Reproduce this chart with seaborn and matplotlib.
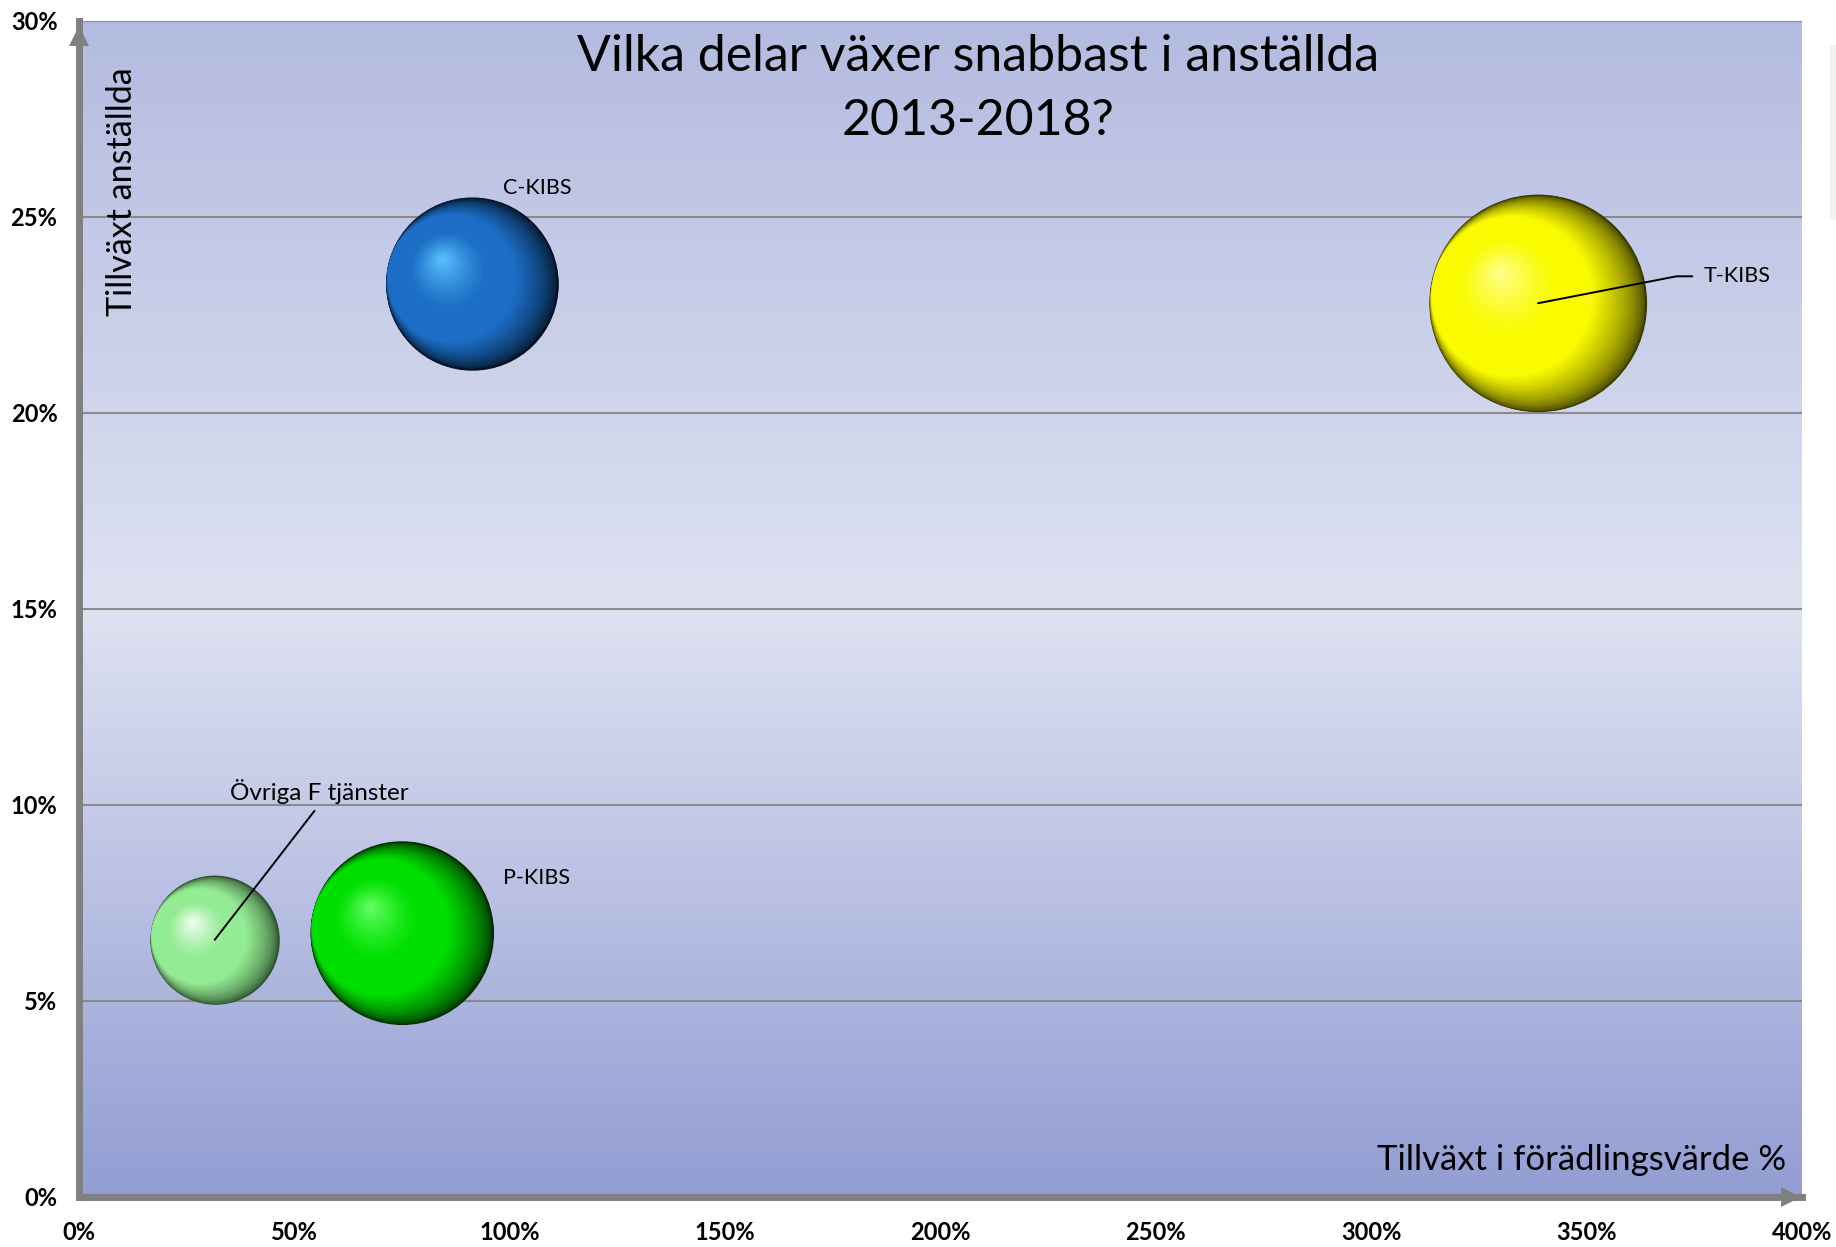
import numpy as np
import pandas as pd
import matplotlib
matplotlib.use("Agg")
import matplotlib.pyplot as plt
import matplotlib.transforms as mtransforms
from matplotlib.colors import to_rgb, LinearSegmentedColormap
from matplotlib.patches import Rectangle
import seaborn as sns

# ---------------- data ----------------
categories = ["Övriga F tjänster", "P-KIBS", "C-KIBS", "T-KIBS"]
value_growth = [31.5, 75.0, 91.3, 338.7]      # Tillväxt i förädlingsvärde (%)
employee_growth = [6.56, 6.74, 23.3, 22.8]    # Tillväxt anställda (%)
bubble_size = [35, 71, 63, 100]               # relative bubble size
x_ticks = [0, 50, 100, 150, 200, 250, 300, 350, 400]
y_ticks = [0, 5, 10, 15, 20, 25, 30]

title_line1 = "Vilka delar växer snabbast i anställda"
title_line2 = "2013-2018?"
x_title = "Tillväxt i förädlingsvärde %"
y_title = "Tillväxt anställda"

# ---------------- styles ----------------
base_colors = {"Övriga F tjänster": "#93eb93", "P-KIBS": "#00e000",
               "C-KIBS": "#1c6ec6", "T-KIBS": "#fafa00"}
dark_colors = {"Övriga F tjänster": "#2e4f2e", "P-KIBS": "#002a00",
               "C-KIBS": "#02101f", "T-KIBS": "#3a3a00"}
light_colors = {"Övriga F tjänster": "#f4fff4", "P-KIBS": "#66ff66",
                "C-KIBS": "#5cc4ff", "T-KIBS": "#ffff90"}
label_style = {  # offset (points) from bubble centre, ha, leader line
    "Övriga F tjänster": ((75.5, 106.6), "center", "bottom"),
    "P-KIBS": ((73.0, 39.3), "left", None),
    "C-KIBS": ((22.0, 68.7), "left", None),
    "T-KIBS": ((119.5, 19.4), "left", "left"),
}

sns.set_theme(style="white")
plt.rcParams["font.family"] = ["Lato", "DejaVu Sans"]

W, H = 1836, 1247
fig = plt.figure(figsize=(W / 100, H / 100), dpi=100)
fig.patch.set_facecolor("white")
L, R, T, B = 79, 1802, 21, 1197
ax = fig.add_axes([L / W, 1 - B / H, (R - L) / W, (B - T) / H])

# background gradient
grad = np.linspace(0, 1, 256).reshape(-1, 1)
cmap = LinearSegmentedColormap.from_list(
    "bg", [(0, "#929dd3"), (0.5, "#dfe2f2"), (1, "#b3bbe0")])
ax.imshow(grad, extent=[0, 1, 0, 1], transform=ax.transAxes, origin="lower",
          cmap=cmap, aspect="auto", zorder=0)

df = pd.DataFrame({"Kategori": categories, "x": value_growth,
                   "y": employee_growth, "size": bubble_size})

s_max = (2 * 108.6 * 0.72) ** 2
sns.scatterplot(data=df, x="x", y="y", hue="Kategori", size="size",
                sizes=(s_max * 0.35, s_max * 1.0), size_norm=(35, 100),
                palette=dark_colors, legend=False, linewidth=0, ax=ax,
                zorder=3)

coll = ax.collections[0]
sizes = coll.get_sizes()


def mix(c1, c2, f):
    a, b = np.array(to_rgb(c1)), np.array(to_rgb(c2))
    f = min(max(f, 0.0), 1.0)
    return tuple(a + (b - a) * f)


ang = np.deg2rad(165)
u = np.array([np.cos(ang), np.sin(ang)])
t1 = 0.26
for (i, row), s in zip(df.iterrows(), sizes):
    name = row["Kategori"]
    D, C, Lc = dark_colors[name], base_colors[name], light_colors[name]
    r = np.sqrt(s) / 2.0
    hl = np.array([-0.36 * r, 0.30 * r])
    p1 = u * r * t1 * 0.98
    for t in np.linspace(0, 0.97, 100):
        if t <= t1:
            p = u * r * t * 0.98
            c = mix(D, C, (t / t1) ** 0.6)
        else:
            f = (t - t1) / (1 - t1)
            p = p1 + (hl - p1) * f
            if t < 0.55:
                c = to_rgb(C)
            else:
                c = mix(C, Lc, ((t - 0.55) / 0.45) ** 1.2)
        tr = ax.transData + mtransforms.ScaledTranslation(
            p[0] / 72, p[1] / 72, fig.dpi_scale_trans)
        ax.scatter([row["x"]], [row["y"]], s=s * (1 - t) ** 2, color=c,
                   linewidth=0, transform=tr, zorder=3)

# labels
for _, row in df.iterrows():
    name = row["Kategori"]
    (dx, dy), ha, leader = label_style[name]
    kw = {}
    if leader == "bottom":
        kw["arrowprops"] = dict(arrowstyle="-", color="black", lw=1.4,
                                shrinkA=3, shrinkB=0, relpos=(0.5, 0.0))
    elif leader == "left":
        kw["arrowprops"] = dict(arrowstyle="-", color="black", lw=1.4,
                                shrinkA=6, shrinkB=0, relpos=(0.0, 0.5),
                                connectionstyle="angle,angleA=0,angleB=11,rad=0")
    ax.annotate(name, xy=(row["x"], row["y"]), xytext=(dx, dy),
                textcoords="offset points", ha=ha, va="center",
                fontsize=17.5 if name.startswith("Ö") else 15.5,
                color="black", zorder=6, **kw)

ax.set_xlim(0, 400)
ax.set_ylim(0, 30)
ax.set_xticks(x_ticks)
ax.set_yticks(y_ticks)
ax.set_xticklabels([f"{v}%" for v in x_ticks])
ax.set_yticklabels([f"{v}%" for v in y_ticks])
ax.set_xlabel("")
ax.set_ylabel("")
for lab in ax.get_xticklabels() + ax.get_yticklabels():
    lab.set_fontweight("bold")
    lab.set_fontsize(17)
    lab.set_color("black")
ax.tick_params(axis="both", direction="out", length=4.5, width=3,
               color="#808080")
ax.tick_params(axis="x", pad=13)
ax.tick_params(axis="y", pad=11)

ax.yaxis.grid(True, color="#8a8a8a", lw=1.5)
ax.xaxis.grid(False)
ax.set_axisbelow("line")

for side in ["top", "right"]:
    ax.spines[side].set_visible(False)
for side in ["left", "bottom"]:
    ax.spines[side].set_color("#808080")
    ax.spines[side].set_linewidth(5)
    ax.spines[side].set_zorder(4)

# axis arrow heads
ax.plot([0], [0.987], marker="^", ms=15, color="#808080",
        transform=ax.transAxes, clip_on=False, zorder=5, mew=0)
ax.plot([0.9935], [0], marker=">", ms=15, color="#808080",
        transform=ax.transAxes, clip_on=False, zorder=5, mew=0)

# titles inside the plot area
ax.text(0.522, (B - 57) / (B - T), title_line1, transform=ax.transAxes,
        ha="center", va="center", fontsize=36, color="black", zorder=6)
ax.text(0.522, (B - 121) / (B - T), title_line2, transform=ax.transAxes,
        ha="center", va="center", fontsize=36, color="black", zorder=6)
ax.text((122 - L) / (R - L), (B - 192) / (B - T), y_title,
        transform=ax.transAxes, rotation=90, ha="center", va="center",
        fontsize=24.5, color="black", zorder=6)
ax.text((1786 - L) / (R - L), (B - 1160) / (B - T), x_title,
        transform=ax.transAxes, ha="right", va="center",
        fontsize=25, color="black", zorder=6)

# faint legend remnant at the right edge
fig.patches.append(Rectangle((1830 / W, 1 - 220 / H), 6 / W, 175 / H,
                             transform=fig.transFigure, facecolor="#f2f2f2",
                             edgecolor="none"))

fig.savefig("out.png", dpi=100)
